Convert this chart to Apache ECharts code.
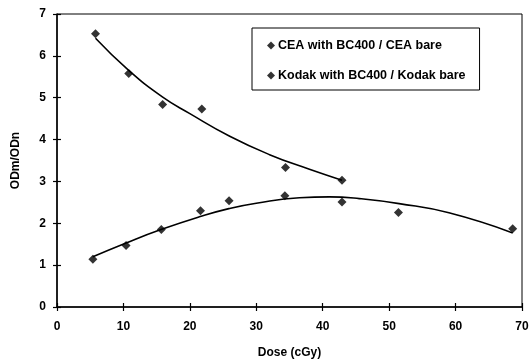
<!DOCTYPE html>
<html>
<head>
<meta charset="utf-8">
<script src="https://cdn.jsdelivr.net/npm/echarts@6/dist/echarts.min.js"></script>
<style>
  html, body { margin: 0; padding: 0; background: #fff; }
  #chart { width: 529px; height: 361px; }
</style>
</head>
<body>
<div id="chart"></div>
<script>
// measured points
const ceaDose = [5.8, 10.8, 15.9, 21.8, 34.4, 42.9];
const ceaRatio = [6.53, 5.58, 4.84, 4.73, 3.33, 3.03];
const kodakDose = [5.4, 10.4, 15.7, 21.6, 25.9, 34.3, 42.9, 51.4, 68.6];
const kodakRatio = [1.14, 1.47, 1.85, 2.30, 2.54, 2.66, 2.51, 2.26, 1.87];

// trend curves
const ceaFitDose = [5.8, 10.75, 15.86, 20, 26, 32, 38, 42.9];
const ceaFitRatio = [6.42, 5.66, 5.02, 4.62, 4.08, 3.64, 3.29, 3.03];
const kodakFitDose = [5.4, 10.4, 15.66, 21.56, 25.87, 30, 36.5, 41, 45.5, 51.5, 59, 68.6];
const kodakFitRatio = [1.2, 1.53, 1.85, 2.16, 2.35, 2.48, 2.61, 2.63, 2.59, 2.47, 2.25, 1.77];

const ceaName = 'CEA with BC400 / CEA bare';
const kodakName = 'Kodak with BC400 / Kodak bare';

const zip = (xs, ys) => xs.map((x, i) => [x, ys[i]]);
const font = '"Liberation Sans", Arial, sans-serif';

const chart = echarts.init(document.getElementById('chart'));

chart.setOption({
  animation: false,
  textStyle: { fontFamily: font, color: '#000' },
  grid: {
    left: 57, right: 7, top: 14, bottom: 54,
    outerBoundsMode: 'none',
    show: true, borderColor: '#000', borderWidth: 1
  },
  legend: {
    data: [ceaName, kodakName],
    orient: 'vertical',
    left: 252, top: 28,
    padding: [11, 14, 8, 15],
    itemWidth: 8, itemHeight: 8, itemGap: 17,
    borderColor: '#000', borderWidth: 1,
    icon: 'diamond',
    textStyle: { fontFamily: font, fontSize: 12.5, fontWeight: 'bold', color: '#000', padding: [0, 0, 0, -2] }
  },
  xAxis: [{
    type: 'value', min: 0, max: 70, interval: 10,
    name: 'Dose (cGy)', nameLocation: 'middle', nameGap: 40,
    nameTextStyle: { fontFamily: font, fontSize: 12, fontWeight: 'bold', color: '#000' },
    axisLine: { lineStyle: { color: '#000', width: 1.5 } },
    axisTick: { length: 4, lineStyle: { color: '#000', width: 1.2 } },
    axisLabel: { margin: 14, fontFamily: font, fontSize: 12, fontWeight: 'bold', color: '#000' },
    splitLine: { show: false }
  }, {
    type: 'value', min: 0, max: 70, interval: 10, position: 'bottom',
    axisLine: { show: false },
    axisTick: { inside: true, length: 4, lineStyle: { color: '#000', width: 1.2 } },
    axisLabel: { show: false },
    splitLine: { show: false }
  }],
  yAxis: [{
    type: 'value', min: 0, max: 7, interval: 1,
    name: 'ODm/ODn', nameLocation: 'middle', nameGap: 35,
    nameTextStyle: { fontFamily: font, fontSize: 12, fontWeight: 'bold', color: '#000' },
    axisLine: { show: true, lineStyle: { color: '#000', width: 1.5 } },
    axisTick: { show: true, length: 4, lineStyle: { color: '#000', width: 1.2 } },
    axisLabel: { margin: 11, fontFamily: font, fontSize: 12, fontWeight: 'bold', color: '#000' },
    splitLine: { show: false }
  }, {
    type: 'value', min: 0, max: 7, interval: 1, position: 'left',
    axisLine: { show: false },
    axisTick: { show: true, inside: true, length: 4, lineStyle: { color: '#000', width: 1.2 } },
    axisLabel: { show: false },
    splitLine: { show: false }
  }],
  series: [
    {
      name: 'ceaFit', type: 'line', smooth: true, showSymbol: false,
      data: zip(ceaFitDose, ceaFitRatio),
      lineStyle: { color: '#000', width: 1.6 }
    },
    {
      name: 'kodakFit', type: 'line', smooth: true, showSymbol: false,
      data: zip(kodakFitDose, kodakFitRatio),
      lineStyle: { color: '#000', width: 1.6 }
    },
    {
      name: ceaName, type: 'scatter', symbol: 'diamond', symbolSize: 9,
      data: zip(ceaDose, ceaRatio),
      itemStyle: { color: '#000' }
    },
    {
      name: kodakName, type: 'scatter', symbol: 'diamond', symbolSize: 9,
      data: zip(kodakDose, kodakRatio),
      itemStyle: { color: '#000' }
    }
  ]
});
</script>
</body>
</html>
